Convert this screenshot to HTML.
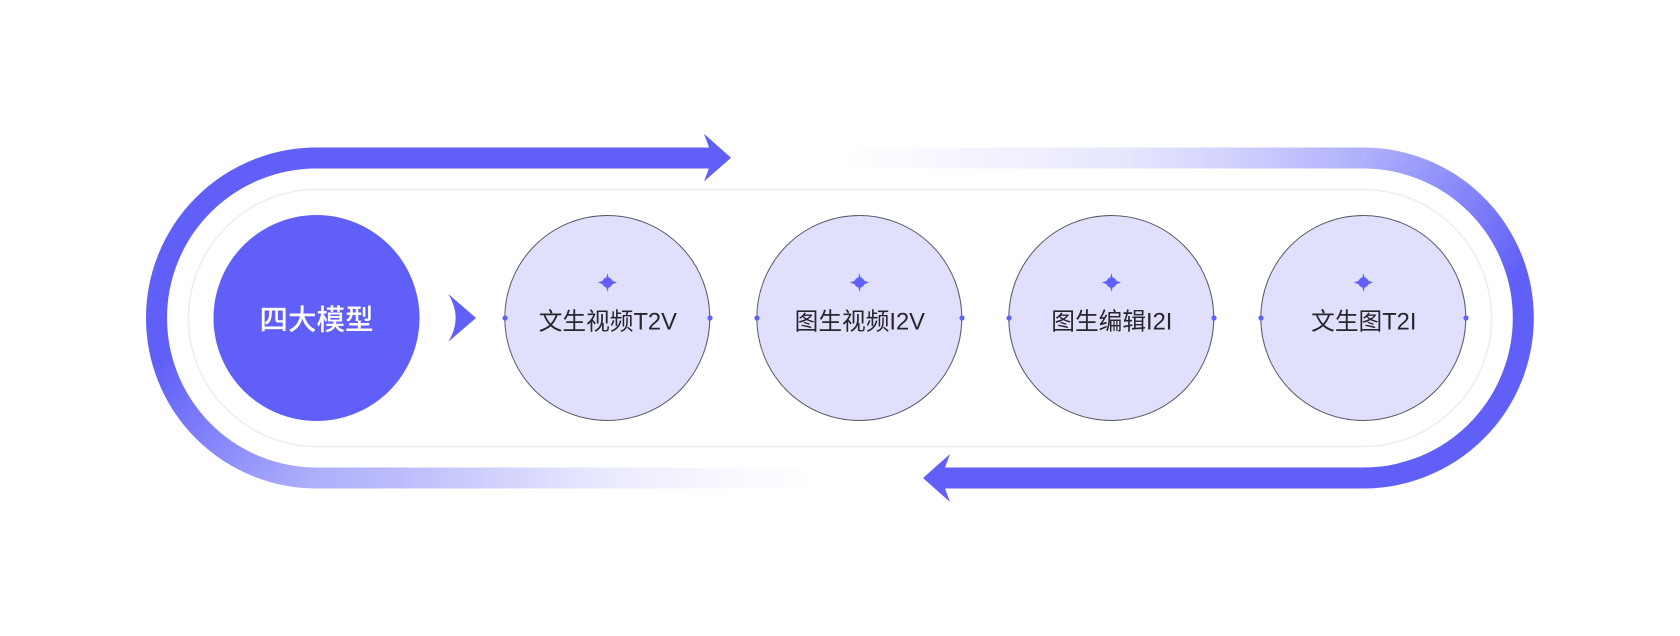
<!DOCTYPE html>
<html lang="zh">
<head>
<meta charset="utf-8">
<style>
html,body{margin:0;padding:0;background:#fff;width:1680px;height:636px;overflow:hidden}
svg{display:block}
text{font-family:"Liberation Sans","Noto Sans CJK SC",sans-serif;text-anchor:middle}
</style>
</head>
<body>
<svg width="1680" height="636" viewBox="0 0 1680 636" xmlns="http://www.w3.org/2000/svg">
<defs>
<linearGradient id="tr" gradientUnits="userSpaceOnUse" x1="840" y1="0" x2="1363.3" y2="0">
<stop offset="0" stop-color="#6060f8" stop-opacity="0"/>
<stop offset=".153" stop-color="#6060f8" stop-opacity=".04"/>
<stop offset=".363" stop-color="#6060f8" stop-opacity=".1"/>
<stop offset=".554" stop-color="#6060f8" stop-opacity=".16"/>
<stop offset=".726" stop-color="#6060f8" stop-opacity=".27"/>
<stop offset="1" stop-color="#6060f8" stop-opacity=".5"/>
</linearGradient>
<linearGradient id="bl" gradientUnits="userSpaceOnUse" x1="316.5" y1="0" x2="815" y2="0">
<stop offset="0" stop-color="#6060f8" stop-opacity=".5"/>
<stop offset=".168" stop-color="#6060f8" stop-opacity=".42"/>
<stop offset=".369" stop-color="#6060f8" stop-opacity=".28"/>
<stop offset=".569" stop-color="#6060f8" stop-opacity=".14"/>
<stop offset=".77" stop-color="#6060f8" stop-opacity=".06"/>
<stop offset="1" stop-color="#6060f8" stop-opacity="0"/>
</linearGradient>
<linearGradient id="arcR" gradientUnits="userSpaceOnUse" x1="1363" y1="158" x2="1512" y2="280">
<stop offset="0" stop-color="#6060f8" stop-opacity=".5"/>
<stop offset="1" stop-color="#6060f8"/>
</linearGradient>
<linearGradient id="arcL" gradientUnits="userSpaceOnUse" x1="316.5" y1="478" x2="167" y2="356">
<stop offset="0" stop-color="#6060f8" stop-opacity=".5"/>
<stop offset="1" stop-color="#6060f8"/>
</linearGradient>
<g id="star">
<path d="M0-9.5 L1.6-3 L9.5 0 L1.6 3 L0 9.5 L-1.6 3 L-9.5 0 L-1.6-3Z" fill="#6060f8"/>
<circle r="5.2" fill="#6060f8"/>
</g>
</defs>

<rect x="188.5" y="189.5" width="1303" height="257" rx="128.5" fill="none" stroke="#eeeeee" stroke-width="1.6"/>

<!-- Top band: solid arc + arrow -->
<path d="M156.5 318 A160 160 0 0 1 316.5 158 H715" fill="none" stroke="#6060f8" stroke-width="21"/>
<polygon points="704,133.7 731,157.8 704,181.5 709,168 709,147.5" fill="#6060f8"/>

<!-- Bottom band: solid arc + arrow -->
<path d="M1523.3 318 A160 160 0 0 1 1363.3 478 H939" fill="none" stroke="#6060f8" stroke-width="21"/>
<polygon points="950,454 923,478 950,502 945,488.5 945,467.5" fill="#6060f8"/>

<!-- Fading bands -->
<rect x="840" y="147.5" width="523.3" height="21" fill="url(#tr)"/>
<path d="M1363.3 158 A160 160 0 0 1 1523.3 318" fill="none" stroke="url(#arcR)" stroke-width="21"/>
<rect x="316.5" y="467.5" width="498.5" height="21" fill="url(#bl)"/>
<path d="M316.5 478 A160 160 0 0 1 156.5 318" fill="none" stroke="url(#arcL)" stroke-width="21"/>

<!-- Main circle -->
<circle cx="316.5" cy="318" r="103" fill="#6060f8"/>
<text x="316.5" y="329.5" font-size="28.5" fill="#ffffff" font-weight="500">四大模型</text>

<!-- Chevron -->
<path d="M448.3 294 L476 318 L448.3 341.7 Q463 318 448.3 294Z" fill="#6060f8"/>

<!-- Model circles -->
<g fill="#e0e0fd" stroke="#5a5a68" stroke-width="1">
<circle cx="607.3" cy="318" r="102.5"/>
<circle cx="859.3" cy="318" r="102.5"/>
<circle cx="1111.3" cy="318" r="102.5"/>
<circle cx="1363.3" cy="318" r="102.5"/>
</g>

<g fill="#6060f8">
<circle cx="505" cy="318" r="2.6"/><circle cx="710" cy="318" r="2.6"/>
<circle cx="757" cy="318" r="2.6"/><circle cx="962" cy="318" r="2.6"/>
<circle cx="1009" cy="318" r="2.6"/><circle cx="1214" cy="318" r="2.6"/>
<circle cx="1261" cy="318" r="2.6"/><circle cx="1466" cy="318" r="2.6"/>
</g>

<use href="#star" x="607.5" y="282.5"/>
<use href="#star" x="859.5" y="282.5"/>
<use href="#star" x="1111.5" y="282.5"/>
<use href="#star" x="1363.5" y="282.5"/>

<g font-size="23.7" fill="#26262c">
<text x="607.8" y="329.5">文生视频T2V</text>
<text x="859.8" y="329.5">图生视频I2V</text>
<text x="1111.8" y="329.5">图生编辑I2I</text>
<text x="1363.8" y="329.5">文生图T2I</text>
</g>
</svg>
</body>
</html>
